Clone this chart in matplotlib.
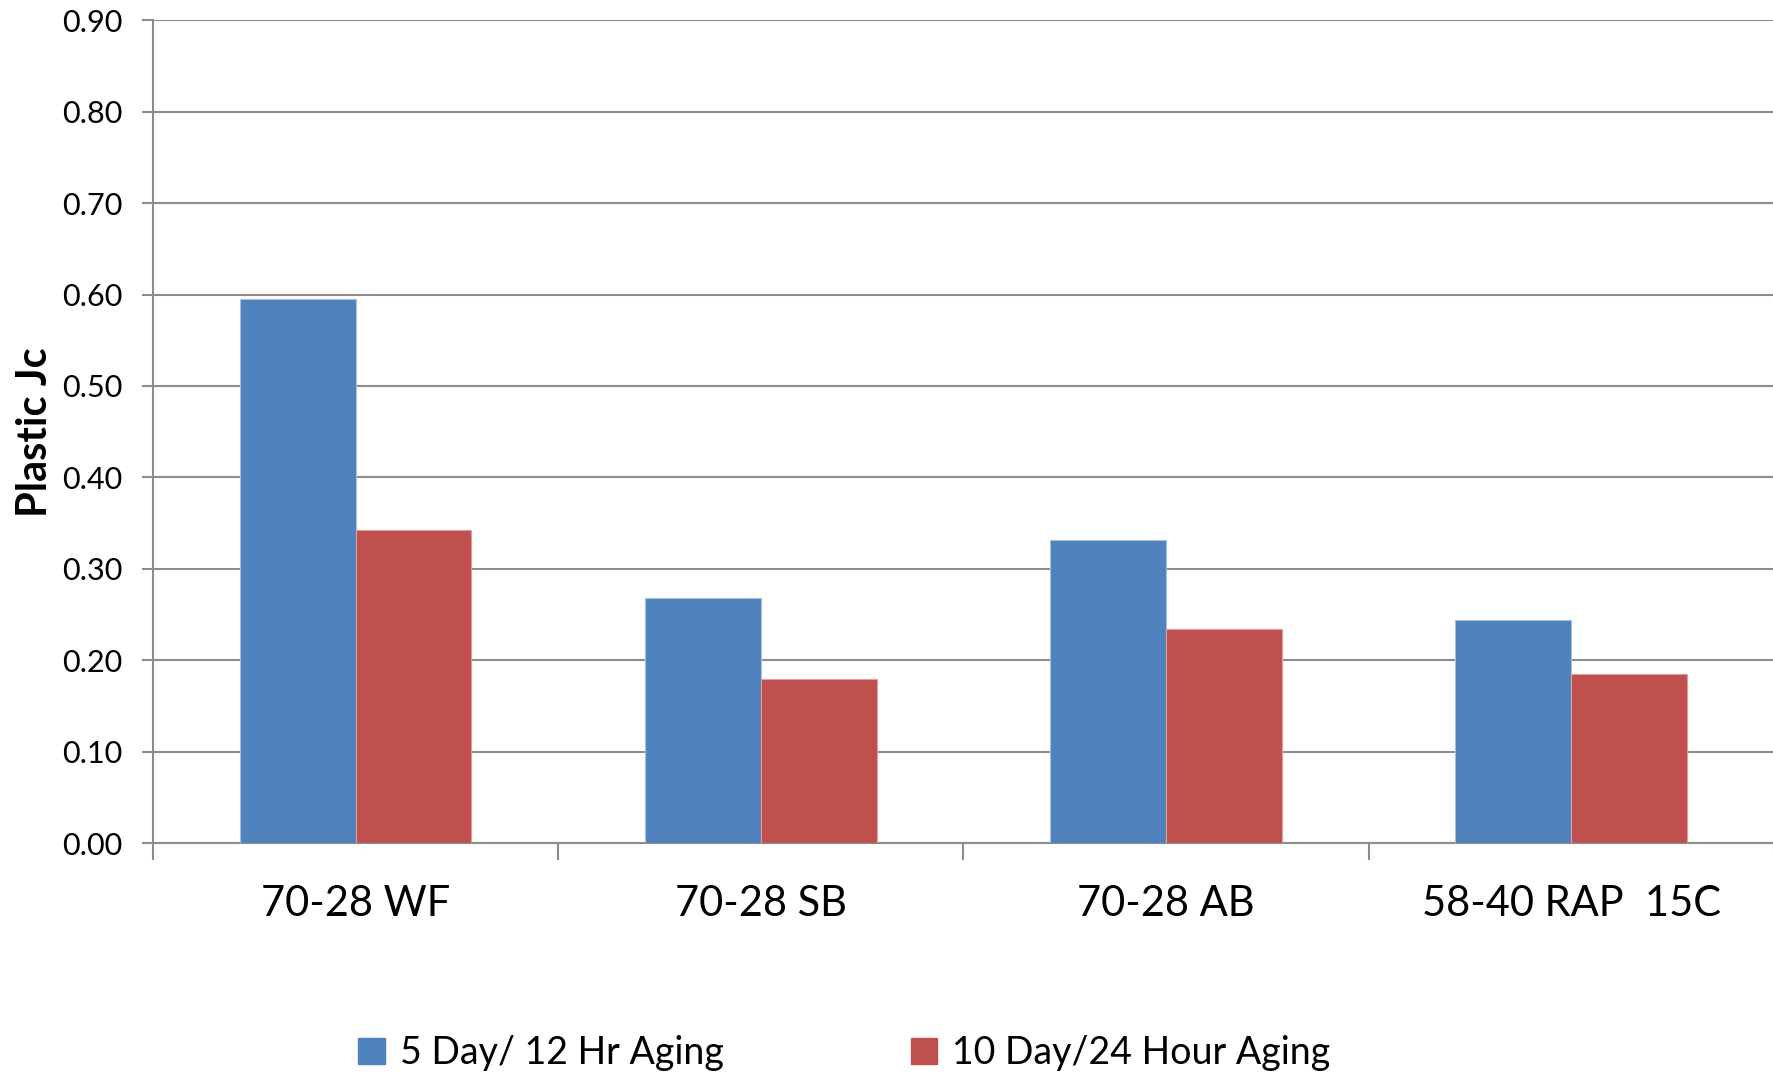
import numpy as np
import matplotlib.pyplot as plt
from matplotlib.patches import Patch

# data
categories = ['70-28 WF', '70-28 SB', '70-28 AB', '58-40 RAP  15C']
aging_5day = [0.595, 0.268, 0.332, 0.244]
aging_10day = [0.343, 0.180, 0.234, 0.185]
series_names = ['5 Day/ 12 Hr Aging', '10 Day/24 Hour Aging']
yticks = np.arange(0, 0.91, 0.1)

blue = '#4F81BD'
red = '#C0504D'
grey = '#8C8C8C'

plt.rcParams['font.family'] = ['Lato', 'DejaVu Sans']

fig = plt.figure(figsize=(17.74, 10.76), dpi=100)
ax = fig.add_axes([0.0862, 0.2161, 0.9138, 0.7653])

x = np.arange(len(categories))
w = 0.286
ax.bar(x - w / 2, aging_5day, w, color=blue, edgecolor='#A7C0DE', linewidth=0.8, zorder=3)
ax.bar(x + w / 2, aging_10day, w, color=red, edgecolor='#DE9F9D', linewidth=0.8, zorder=3)

ax.set_xlim(-0.5, len(categories) - 0.5)
ax.set_ylim(0, 0.9)
ax.set_yticks(yticks)
ax.set_yticklabels(['%.2f' % v for v in yticks], fontsize=22)
ax.yaxis.grid(True, color=grey, linewidth=1.5, zorder=0)
ax.tick_params(axis='y', length=8, width=1.5, color=grey, pad=14)

ax.set_xticks(x)
ax.set_xticklabels(categories, fontsize=30)
ax.tick_params(axis='x', which='major', length=0, pad=30)
ax.set_xticks(np.arange(len(categories) + 1) - 0.5, minor=True)
ax.tick_params(axis='x', which='minor', length=12, width=1.5, color=grey)

for s in ['top', 'right']:
    ax.spines[s].set_visible(False)
for s in ['left', 'bottom']:
    ax.spines[s].set_color(grey)
    ax.spines[s].set_linewidth(1.5)

ax.set_ylabel('Plastic Jc', fontsize=30, fontweight='bold', labelpad=6)

handles = [Patch(color=blue), Patch(color=red)]
fig.legend(handles, series_names, loc='center', bbox_to_anchor=(0.476, 0.021),
           ncol=2, frameon=False, fontsize=27, handlelength=0.7, handleheight=0.7,
           handletextpad=0.4, columnspacing=5.0)

fig.savefig('out.png', dpi=100)
